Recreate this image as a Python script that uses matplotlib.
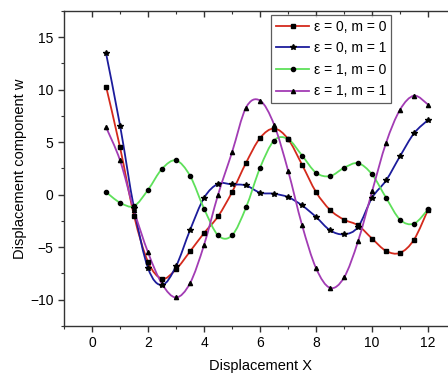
import numpy as np
import matplotlib.pyplot as plt
from matplotlib.path import Path
from matplotlib.patches import PathPatch
from matplotlib.lines import Line2D

plt.rcParams['font.family'] = ['Liberation Sans', 'DejaVu Sans']

# sample positions along X
x = [0.5, 1.0, 1.5, 2.0, 2.5, 3.0, 3.5, 4.0, 4.5, 5.0, 5.5, 6.0,
     6.5, 7.0, 7.5, 8.0, 8.5, 9.0, 9.5, 10.0, 10.5, 11.0, 11.5, 12.0]

w_e0_m0 = [10.3, 4.5, -2.0, -6.4, -8.0, -7.1, -5.4, -3.65, -2.06, 0.25, 3.04, 5.4,
           6.3, 5.3, 2.85, 0.25, -1.45, -2.38, -2.92, -4.18, -5.35, -5.54, -4.27, -1.42]
w_e0_m1 = [13.45, 6.58, -1.3, -7.0, -8.6, -6.8, -3.36, -0.3, 1.04, 0.98, 0.88, 0.19,
           0.09, -0.23, -1.02, -2.12, -3.39, -3.77, -3.07, -0.29, 1.36, 3.67, 5.85, 7.12]
w_e1_m0 = [0.25, -0.76, -1.08, 0.47, 2.47, 3.26, 1.8, -1.33, -3.87, -3.87, -1.2, 2.56,
           5.16, 5.3, 3.73, 2.09, 1.77, 2.56, 3.0, 1.93, -0.29, -2.38, -2.75, -1.4]
w_e1_m1 = [6.42, 3.26, -1.5, -5.5, -8.5, -9.78, -8.42, -4.78, 0.0, 4.05, 8.3, 8.96,
           6.68, 2.3, -2.9, -7.0, -8.87, -7.88, -4.43, 0.31, 4.93, 8.1, 9.43, 8.58]

labels = ['ε = 0, m = 0', 'ε = 0, m = 1', 'ε = 1, m = 0', 'ε = 1, m = 1']
series = [w_e0_m0, w_e0_m1, w_e1_m0, w_e1_m1]
colors = ['#d42a1c', '#1c1c9c', '#5ee05a', '#a23cb4']
markers = ['s', '*', 'o', '^']
msizes = [2.6, 3.8, 3.0, 3.0]


def smooth_path(xs, ys):
    # catmull-rom style bezier through the points (drawing only)
    p = np.column_stack([xs, ys])
    pp = np.vstack([p[0], p, p[-1]])
    verts = [p[0]]
    codes = [Path.MOVETO]
    for i in range(len(p) - 1):
        c1 = pp[i + 1] + (pp[i + 2] - pp[i]) / 6.0
        c2 = pp[i + 2] - (pp[i + 3] - pp[i + 1]) / 6.0
        verts += [c1, c2, pp[i + 2]]
        codes += [Path.CURVE4] * 3
    return Path(verts, codes)


fig = plt.figure(figsize=(4.48, 3.76), dpi=100)
ax = fig.add_axes([0.143, 0.133, 0.875, 0.838])

handles = []
for ys, c, m, ms, lab in zip(series, colors, markers, msizes, labels):
    ax.add_patch(PathPatch(smooth_path(x, ys), facecolor='none', edgecolor=c,
                           lw=1.3, zorder=2))
    ax.plot(x, ys, ls='none', marker=m, ms=ms, color='black', zorder=3)
    handles.append(Line2D([], [], color=c, lw=1.3, marker=m, ms=ms,
                          mfc='black', mec='black'))

ax.set_xlim(-1, 13)
ax.set_ylim(-12.5, 17.5)
ax.set_xticks([0, 2, 4, 6, 8, 10, 12])
ax.set_xticks([-1, 1, 3, 5, 7, 9, 11, 13], minor=True)
ax.set_yticks([-10, -5, 0, 5, 10, 15])
ax.set_yticks([-12.5, -7.5, -2.5, 2.5, 7.5, 12.5, 17.5], minor=True)
ax.tick_params(which='both', direction='out', top=True, labelsize=10, color='#333333')
ax.tick_params(which='major', length=4, width=1)
ax.tick_params(which='minor', length=2.5, width=0.8)
for t in ax.xaxis.get_major_ticks() + ax.xaxis.get_minor_ticks():
    t.tick2line.set_marker(3)

for s in ax.spines.values():
    s.set_linewidth(1.0)
    s.set_color('#333333')

ax.set_xlabel('Displacement X', fontsize=10.5, labelpad=6)
ax.set_ylabel('Displacement component w', fontsize=10.5, labelpad=2)

leg = ax.legend(handles, labels, loc='upper left', bbox_to_anchor=(0.528, 0.988),
                fontsize=10, frameon=True, fancybox=False, handlelength=2.4,
                handletextpad=0.35, borderpad=0.35, labelspacing=0.55,
                borderaxespad=0.0)
leg.get_frame().set_edgecolor('#333333')
leg.get_frame().set_linewidth(0.9)

fig.savefig('out.png', dpi=100)
